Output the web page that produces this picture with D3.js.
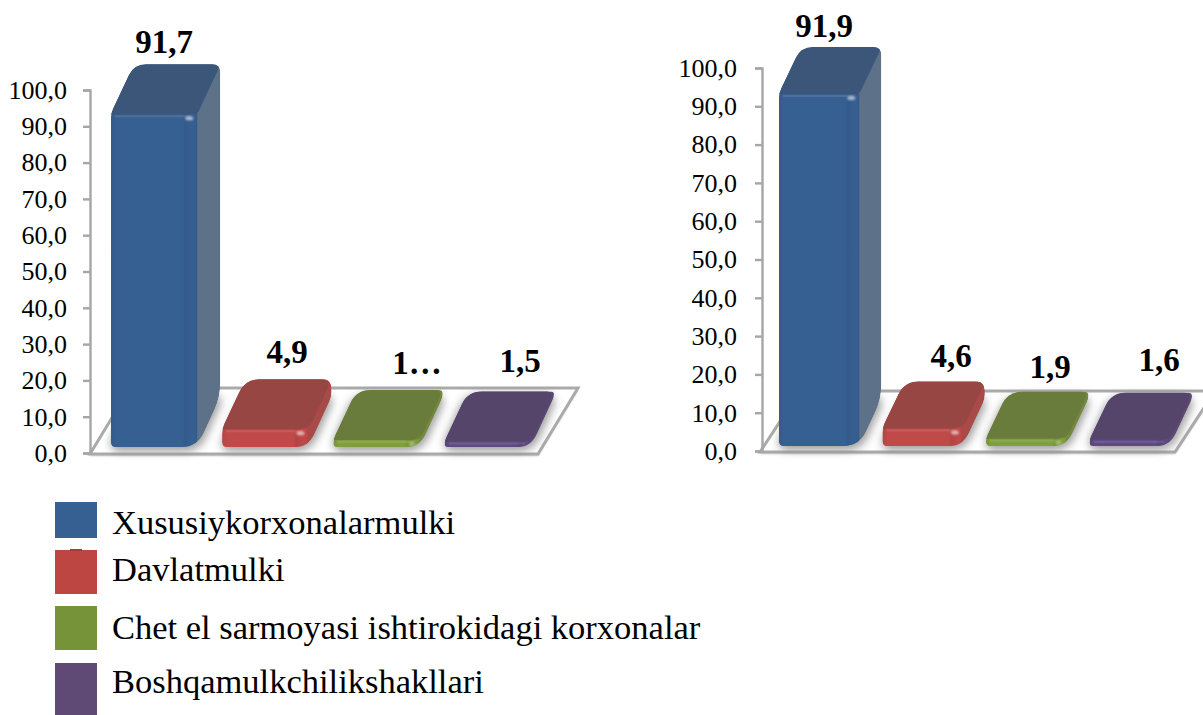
<!DOCTYPE html>
<html><head><meta charset="utf-8">
<script src="https://cdn.jsdelivr.net/npm/d3@7/dist/d3.min.js"></script>
<style>html,body{margin:0;padding:0;background:#fff;overflow:hidden}svg{display:block}
text{font-family:"Liberation Serif",serif;fill:#000}</style></head><body>
<svg id="c" width="1203" height="715"></svg>
<script>
const categories=["Xususiykorxonalarmulki","Davlatmulki","Chet el sarmoyasi ishtirokidagi korxonalar","Boshqamulkchilikshakllari"];
const leftValues=[91.7,4.9,1.9,1.5];
const rightValues=[91.9,4.6,1.9,1.6];
const leftLabels=["91,7","4,9","1…","1,5"];
const rightLabels=["91,9","4,6","1,9","1,6"];
const tickValues=[0,10,20,30,40,50,60,70,80,90,100];
const palette=[
 {front:"#376092",edge:"#335a8a",top:"#3b5679",side:"#5d7189",swatch:"#376092"},
 {front:"#c0494a",edge:"#b54442",top:"#984644",side:"#a84a48",swatch:"#bd4643"},
 {front:"#7f9f3b",edge:"#769536",top:"#6a7c3c",side:"#74883f",swatch:"#779339"},
 {front:"#5f4a82",edge:"#584478",top:"#55456b",side:"#5c4975",swatch:"#5f4a75"}];
const charts=[
 {values:leftValues,labels:leftLabels,axisX:90,y0:453,y100:90,base:446,xr:[111,531],dx:23,dy:49,
  floor:{fl:90,fr:538,by:388,fy:454,bdx:40},pad:16,
  lab:[[164,53],[287,363],[417,374],[520,372]]},
 {values:rightValues,labels:rightLabels,axisX:762,y0:451,y100:68,base:445,xr:[779,1170],dx:22,dy:46,
  floor:{fl:760,fr:1175,by:391,fy:452,bdx:40},pad:18,
  lab:[[824,37],[951,367],[1050,378],[1159,371]]}];
const legendRows=[[502,538],[550,594],[606,650],[663,715]];
const legendBaselines=[534,581,639,693];

const svg=d3.select("#c");
const defs=svg.append("defs");
defs.append("filter").attr("id","blur5").attr("x","-30%").attr("y","-30%").attr("width","160%").attr("height","160%")
 .append("feGaussianBlur").attr("stdDeviation",4);
defs.append("filter").attr("id","blur1").attr("x","-50%").attr("y","-50%").attr("width","200%").attr("height","200%")
 .append("feGaussianBlur").attr("stdDeviation",1.1);
palette.forEach((p,i)=>{
 const g=defs.append("linearGradient").attr("id","fg"+i);
 [[0,p.edge],[.06,p.front],[.82,p.front],[.86,p.edge],[.95,p.front],[1,p.edge]].forEach(s=>g.append("stop").attr("offset",s[0]).attr("stop-color",s[1]));
});

function rounded(pts,rs){
 let d="";
 const n=pts.length;
 pts.forEach((p,i)=>{
  const a=pts[(i+n-1)%n],b=pts[(i+1)%n];
  const la=Math.hypot(a[0]-p[0],a[1]-p[1]),lb=Math.hypot(b[0]-p[0],b[1]-p[1]);
  const r=Math.min(rs[i],la/2,lb/2);
  const s=[p[0]+(a[0]-p[0])*r/la,p[1]+(a[1]-p[1])*r/la];
  const e=[p[0]+(b[0]-p[0])*r/lb,p[1]+(b[1]-p[1])*r/lb];
  d+=(i?"L":"M")+s[0]+","+s[1]+"Q"+p[0]+","+p[1]+" "+e[0]+","+e[1];
 });
 return d+"Z";
}

charts.forEach((c,ci)=>{
 const g=svg.append("g");
 const y=d3.scaleLinear().domain([0,100]).range([c.y0,c.y100]);
 const x=d3.scaleBand().domain(categories).range(c.xr).paddingInner(0.225);
 const f=c.floor;
 const floorPts=[[f.fl,f.fy],[f.fr,f.fy],[f.fr+f.bdx,f.by],[f.fl+f.bdx,f.by]];
 g.append("path").attr("d",d3.line()(floorPts)+"Z").attr("fill","#8c8c8c").attr("opacity",.45)
  .attr("transform","translate(0,2)").attr("filter","url(#blur1)");
 g.append("path").attr("d",d3.line()(floorPts)+"Z").attr("fill","#fff").attr("stroke","#aaaaaa").attr("stroke-width",3).attr("stroke-linejoin","miter");
 const axis=d3.axisLeft(y).tickValues(tickValues).tickSize(7).tickPadding(c.pad).tickFormat(v=>d3.format(".1f")(v).replace(".",","));
 const ag=g.append("g").attr("transform",`translate(${c.axisX},0)`).call(axis);
 ag.selectAll("path,line").attr("stroke","#a6a6a6").attr("stroke-width",2.4);
 ag.selectAll("text").attr("font-size",26).attr("font-family",'"Liberation Serif",serif').attr("fill","#111");
 categories.forEach(cat=>{
  const x0=x(cat),x1=x0+x.bandwidth();
  const foot=[[x0,c.base+2],[x1,c.base+2],[x1+c.dx,c.base-c.dy],[x0+c.dx,c.base-c.dy]];
  g.append("path").attr("d",rounded(foot,[10,14,10,14])).attr("fill","#8a8a8a").attr("stroke","#8a8a8a").attr("stroke-width",7)
   .attr("stroke-linejoin","round").attr("opacity",.8).attr("filter","url(#blur5)");
 });
 categories.forEach((cat,i)=>{
  const p=palette[i],v=c.values[i];
  const x0=x(cat),x1=x0+x.bandwidth();
  const yt=c.base-(y(0)-y(v));
  const big=(c.base-yt)>60;
  const id=`clip${ci}_${i}`;
  const sil=[[x0,c.base+1],[x1,c.base+1],[x1+c.dx,c.base-c.dy],[x1+c.dx,yt-c.dy],[x0+c.dx,yt-c.dy],[x0,yt]];
  const silD=rounded(sil,[5,big?16:14,big?14:5,big?8:14,big?12:14,big?5:5]);
  defs.append("clipPath").attr("id",id).append("path").attr("d",silD);
  const bar=g.append("g").attr("clip-path",`url(#${id})`);
  bar.append("path").attr("d",silD).attr("fill",p.side);
  bar.append("rect").attr("x",x0).attr("y",yt).attr("width",x1-x0).attr("height",c.base+1-yt).attr("fill",`url(#fg${i})`);
  const top=[[x0-1,yt+1],[x1,yt+1],[x1+c.dx+1,yt-c.dy-1],[x0+c.dx,yt-c.dy-1]];
  bar.append("path").attr("d",rounded(top,[0,big?3:9,big?6:12,0])).attr("fill",p.top);
  if(i<3) bar.append("ellipse").attr("cx",x1-8).attr("cy",yt+5).attr("rx",i==2?3:4).attr("ry",2).attr("fill","#fff").attr("opacity",i==2?.3:.6).attr("filter","url(#blur1)");
  bar.append("line").attr("x1",x0+4).attr("x2",x1-6).attr("y1",yt+3).attr("y2",yt+3).attr("stroke","#fff").attr("stroke-opacity",.1).attr("stroke-width",2);
 });
 g.selectAll("text.val").data(c.labels).join("text").attr("class","val")
  .attr("x",(d,i)=>c.lab[i][0]).attr("y",(d,i)=>c.lab[i][1])
  .attr("text-anchor","middle").attr("font-weight","bold").attr("font-size",33).text(d=>d);
});

const lg=svg.append("g");
lg.selectAll("rect").data(categories).join("rect")
 .attr("x",55).attr("width",42).attr("y",(d,i)=>legendRows[i][0]).attr("height",(d,i)=>legendRows[i][1]-legendRows[i][0])
 .attr("fill",(d,i)=>palette[i].swatch);
lg.append("rect").attr("x",70).attr("y",549).attr("width",12).attr("height",2).attr("fill","#a63d3a");
lg.selectAll("text").data(categories).join("text")
 .attr("x",112).attr("y",(d,i)=>legendBaselines[i]).attr("font-size",34.5).attr("fill","#111").text(d=>d);
</script></body></html>
